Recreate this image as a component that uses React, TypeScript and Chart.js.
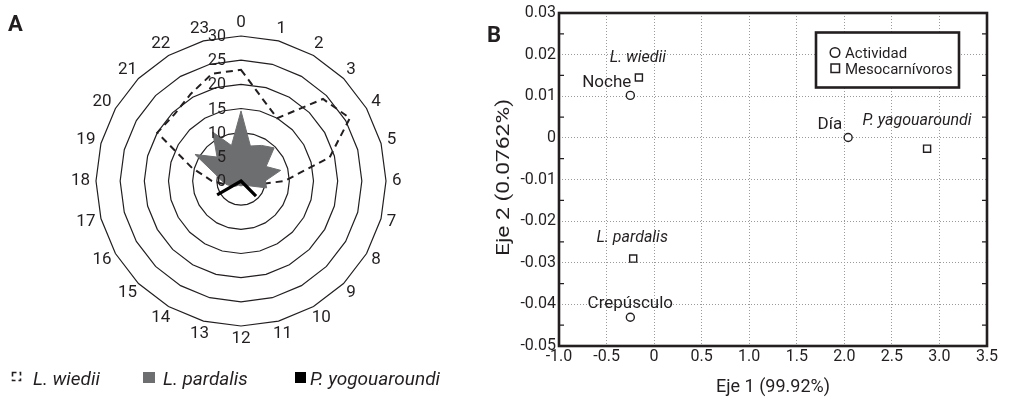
import { useEffect, useRef } from 'react';
import { Chart, registerables } from 'chart.js';

Chart.register(...registerables);

const INK = '#231f20';
const GREY = '#6d6e70';
const GRID = '#9a9a9a';
const FONT = 'Roboto, "Open Sans", sans-serif';

Chart.defaults.font.family = FONT;
Chart.defaults.color = INK;

// ---------- Panel A (radar) ----------
const hourLabels = ['0', '1', '2', '3', '4', '5', '6', '7', '8', '9', '10', '11', '12', '13', '14', '15', '16', '17', '18', '19', '20', '21', '22', '23'];
const wiediiValues = [23, 17.5, 15, 24, 26, 19, 9, 3, 1, 0.5, 0.5, 0.5, 0.5, 0.5, 0.5, 0.5, 1, 3, 6, 10.5, 20, 19.5, 20.8, 23];
const pardalisValues = [14.5, 7.5, 8.5, 9.7, 6, 8.5, 5, 5.5, 2, 1.5, 1, 1, 1, 1, 1, 1.5, 2, 3, 4, 5.5, 11, 7, 11.7, 7.6];
const yagouaroundiValues = [0, 0, 0, 0, 0, 0, 0, 0, 0, 4.4, 0, 0, 0, 0, 0, 0, 5.7, 0, 0, 0, 0, 0, 0, 0];
const radialTicks = [0, 5, 10, 15, 20, 25, 30];
const radarSeries = ['L. wiedii', 'L. pardalis', 'P. yogouaroundi'];

// ---------- Panel B (scatter) ----------
const activityLabels = ['Noche', 'Día', 'Crepúsculo'];
const activityX = [-0.25, 2.04, -0.25];
const activityY = [0.0102, 0.0001, -0.0431];
const speciesLabels = ['L. wiedii', 'P. yagouaroundi', 'L. pardalis'];
const speciesX = [-0.16, 2.87, -0.22];
const speciesY = [0.0145, -0.0026, -0.029];
const scatterSeries = ['Actividad', 'Mesocarnívoros'];
const xTitle = 'Eje 1 (99.92%)';
const yTitle = 'Eje 2 (0.0762%)';

// label placement (pixel offsets from the marker)
const activityPlacement = [
  { align: 'right', dx: 1, dy: -8 },
  { align: 'right', dx: -6, dy: -8 },
  { align: 'center', dx: 0, dy: -9 },
];
const speciesPlacement = [
  { align: 'center', dx: -1, dy: -16 },
  { align: 'center', dx: -10, dy: -24 },
  { align: 'center', dx: -1, dy: -17 },
];

const R_OUTER_PX = 145;
const RADAR_DRAW = 181;
const RMAX = (radialTicks[radialTicks.length - 1] * RADAR_DRAW) / R_OUTER_PX;

const radarDecor = {
  id: 'radarDecor',
  afterDraw(chart: any) {
    const { ctx } = chart;
    const r = chart.scales.r;
    const cx = r.xCenter;
    const cy = r.yCenter;
    const outer = r.getDistanceFromCenterForValue(radialTicks[radialTicks.length - 1]);
    ctx.save();
    ctx.fillStyle = INK;
    ctx.font = `17px ${FONT}`;
    ctx.textAlign = 'center';
    ctx.textBaseline = 'middle';
    hourLabels.forEach((lab, i) => {
      const a = (i / hourLabels.length) * Math.PI * 2;
      const s = Math.sin(a);
      const c = Math.cos(a);
      const w = ctx.measureText(lab).width;
      const x = cx + s * (outer + 6) + (s * w) / 2;
      const y = cy - c * (outer + 6) - c * 7;
      ctx.fillText(lab, x, y);
    });
    ctx.font = `16px ${FONT}`;
    ctx.textAlign = 'right';
    radialTicks.forEach((v) => {
      ctx.fillText(String(v), cx - 15, cy - r.getDistanceFromCenterForValue(v) + 1);
    });
    ctx.font = `bold 22px ${FONT}`;
    ctx.textAlign = 'left';
    ctx.textBaseline = 'alphabetic';
    ctx.fillText('A', 8, 31);

    // legend
    const ds = chart.data.datasets;
    ctx.font = `italic 19px ${FONT}`;
    ctx.strokeStyle = INK;
    ctx.lineWidth = 1.6;
    ctx.setLineDash([4, 3]);
    ctx.strokeRect(12.5, 372.5, 8, 8);
    ctx.setLineDash([]);
    ctx.fillText(ds[0].label, 33, 385);
    ctx.fillStyle = ds[1].backgroundColor;
    ctx.fillRect(143, 372, 12, 11);
    ctx.fillStyle = INK;
    ctx.fillText(ds[1].label, 163, 385);
    ctx.fillStyle = '#000';
    ctx.fillRect(295, 372, 11, 11);
    ctx.fillStyle = INK;
    ctx.fillText(ds[2].label, 310, 385);
    ctx.restore();
  },
};

function RadarPanel() {
  const ref = useRef<HTMLCanvasElement>(null);
  useEffect(() => {
    const chart = new Chart(ref.current as HTMLCanvasElement, {
      type: 'radar',
      data: {
        labels: hourLabels,
        datasets: [
          {
            label: radarSeries[0],
            data: wiediiValues,
            borderColor: INK,
            backgroundColor: 'rgba(0,0,0,0)',
            borderWidth: 2,
            borderDash: [7, 5],
            fill: false,
            pointRadius: 0,
            order: 3,
          },
          {
            label: radarSeries[1],
            data: pardalisValues,
            borderColor: GREY,
            backgroundColor: GREY,
            borderWidth: 1,
            fill: true,
            pointRadius: 0,
            order: 2,
          },
          {
            label: radarSeries[2],
            data: yagouaroundiValues,
            borderColor: '#000',
            backgroundColor: 'rgba(0,0,0,0)',
            borderWidth: 3.2,
            fill: false,
            pointRadius: 0,
            order: 1,
          },
        ],
      } as any,
      options: {
        responsive: false,
        animation: false,
        devicePixelRatio: 1,
        layout: { padding: { left: 0, right: 0, top: 0, bottom: 36 } },
        plugins: { legend: { display: false }, tooltip: { enabled: false } },
        elements: { line: { tension: 0, borderJoinStyle: 'miter' } },
        scales: {
          r: {
            type: 'radialLinear',
            min: 0,
            max: RMAX,
            startAngle: 0,
            ticks: { display: false, stepSize: 5 },
            pointLabels: { display: false },
            angleLines: { display: false },
            grid: {
              color: (c: any) =>
                c.tick && c.tick.value > 0 && c.tick.value <= radialTicks[radialTicks.length - 1] + 0.001
                  ? INK
                  : 'rgba(0,0,0,0)',
              lineWidth: 1.2,
            },
          },
        },
      } as any,
      plugins: [radarDecor],
    });
    return () => chart.destroy();
  }, []);
  return (
    <canvas ref={ref} width={482} height={398} style={{ position: 'absolute', left: 0, top: 0 }} />
  );
}

const scatterDecor = {
  id: 'scatterDecor',
  beforeDatasetsDraw(chart: any) {
    const { ctx, chartArea: a } = chart;
    const ys = chart.scales.y;
    ctx.save();
    ctx.strokeStyle = INK;
    ctx.lineWidth = 1.2;
    const t = ys.ticks;
    for (let i = 0; i < t.length - 1; i++) {
      const py = ys.getPixelForValue((t[i].value + t[i + 1].value) / 2);
      ctx.beginPath();
      ctx.moveTo(a.left, py);
      ctx.lineTo(a.left + 5, py);
      ctx.moveTo(a.right, py);
      ctx.lineTo(a.right - 5, py);
      ctx.stroke();
    }
    ctx.lineWidth = 2.6;
    ctx.strokeRect(a.left, a.top, a.right - a.left, a.bottom - a.top);
    ctx.restore();
  },
  afterDatasetsDraw(chart: any) {
    const { ctx, chartArea: a } = chart;
    const xs = chart.scales.x;
    const ys = chart.scales.y;
    ctx.save();
    ctx.fillStyle = INK;
    ctx.textBaseline = 'alphabetic';
    ctx.font = `17px ${FONT}`;
    activityLabels.forEach((lab, i) => {
      const p = activityPlacement[i];
      ctx.textAlign = p.align;
      ctx.fillText(lab, xs.getPixelForValue(activityX[i]) + p.dx, ys.getPixelForValue(activityY[i]) + p.dy);
    });
    ctx.font = `italic 16px ${FONT}`;
    speciesLabels.forEach((lab, i) => {
      const p = speciesPlacement[i];
      ctx.textAlign = p.align;
      ctx.fillText(lab, xs.getPixelForValue(speciesX[i]) + p.dx, ys.getPixelForValue(speciesY[i]) + p.dy);
    });

    // legend box
    const bx = a.right - 171;
    const by = a.top + 19.5;
    const bw = 143;
    const bh = 55;
    ctx.fillStyle = '#fff';
    ctx.fillRect(bx, by, bw, bh);
    ctx.strokeStyle = INK;
    ctx.lineWidth = 2.6;
    ctx.strokeRect(bx, by, bw, bh);
    ctx.lineWidth = 1.5;
    ctx.beginPath();
    ctx.arc(bx + 19, by + 20, 4.8, 0, Math.PI * 2);
    ctx.stroke();
    ctx.strokeRect(bx + 15, by + 31.5, 8.5, 8.5);
    ctx.fillStyle = INK;
    ctx.font = `15px ${FONT}`;
    ctx.textAlign = 'left';
    ctx.fillText(chart.data.datasets[0].label, bx + 29, by + 25.5);
    ctx.fillText(chart.data.datasets[1].label, bx + 29, by + 41.5);

    // panel letter
    ctx.font = `bold 22px ${FONT}`;
    ctx.fillText('B', 5, 42);

    // y-axis title (rotated)
    ctx.translate(22, (a.top + a.bottom) / 2 - 2);
    ctx.rotate(-Math.PI / 2);
    ctx.scale(1.2, 1);
    ctx.font = `19px ${FONT}`;
    ctx.textAlign = 'center';
    ctx.textBaseline = 'middle';
    ctx.fillText(yTitle, 0, 0);
    ctx.restore();
  },
};

const fmtX = (v: number) => (Math.abs(v) < 1e-9 ? '0' : Number(v).toFixed(1));
const fmtY = (v: number) => (Math.abs(v) < 1e-9 ? '0' : Number(v).toFixed(2));

function ScatterPanel() {
  const ref = useRef<HTMLCanvasElement>(null);
  useEffect(() => {
    const chart = new Chart(ref.current as HTMLCanvasElement, {
      type: 'scatter',
      data: {
        datasets: [
          {
            label: scatterSeries[0],
            data: activityX.map((x, i) => ({ x, y: activityY[i] })),
            pointStyle: 'circle',
            pointRadius: 4,
            borderColor: INK,
            backgroundColor: '#fff',
            borderWidth: 1.4,
          },
          {
            label: scatterSeries[1],
            data: speciesX.map((x, i) => ({ x, y: speciesY[i] })),
            pointStyle: 'rect',
            pointRadius: 5,
            borderColor: INK,
            backgroundColor: '#fff',
            borderWidth: 1.4,
          },
        ],
      } as any,
      options: {
        responsive: false,
        animation: false,
        devicePixelRatio: 1,
        layout: { padding: { left: 0, right: 44, top: 13, bottom: 0 } },
        plugins: { legend: { display: false }, tooltip: { enabled: false } },
        scales: {
          x: {
            type: 'linear',
            min: -1,
            max: 3.5,
            ticks: {
              stepSize: 0.5,
              callback: (v: any) => fmtX(v),
              color: INK,
              font: { size: 16 },
              padding: 1,
              maxRotation: 0,
              autoSkip: false,
            },
            grid: { color: GRID, drawTicks: false, lineWidth: 1 },
            border: { display: false, dash: [1, 2] },
            title: { display: true, text: xTitle, color: INK, font: { size: 18 }, padding: { top: 0, bottom: 0 } },
            afterFit: (s: any) => {
              s.height = 52;
            },
          },
          y: {
            type: 'linear',
            min: -0.05,
            max: 0.03,
            ticks: {
              stepSize: 0.01,
              callback: (v: any) => fmtY(v),
              color: INK,
              font: { size: 16 },
              padding: 3,
            },
            grid: { color: GRID, drawTicks: false, lineWidth: 1 },
            border: { display: false, dash: [1, 2] },
            afterFit: (s: any) => {
              s.width = 77;
            },
          },
        },
      } as any,
      plugins: [scatterDecor],
    });
    return () => chart.destroy();
  }, []);
  return (
    <canvas ref={ref} width={549} height={398} style={{ position: 'absolute', left: 482, top: 0 }} />
  );
}

export default function App() {
  return (
    <div
      style={{
        position: 'absolute',
        left: 0,
        top: 0,
        width: 1031,
        height: 398,
        background: '#fff',
        overflow: 'hidden',
      }}
    >
      <RadarPanel />
      <ScatterPanel />
    </div>
  );
}
